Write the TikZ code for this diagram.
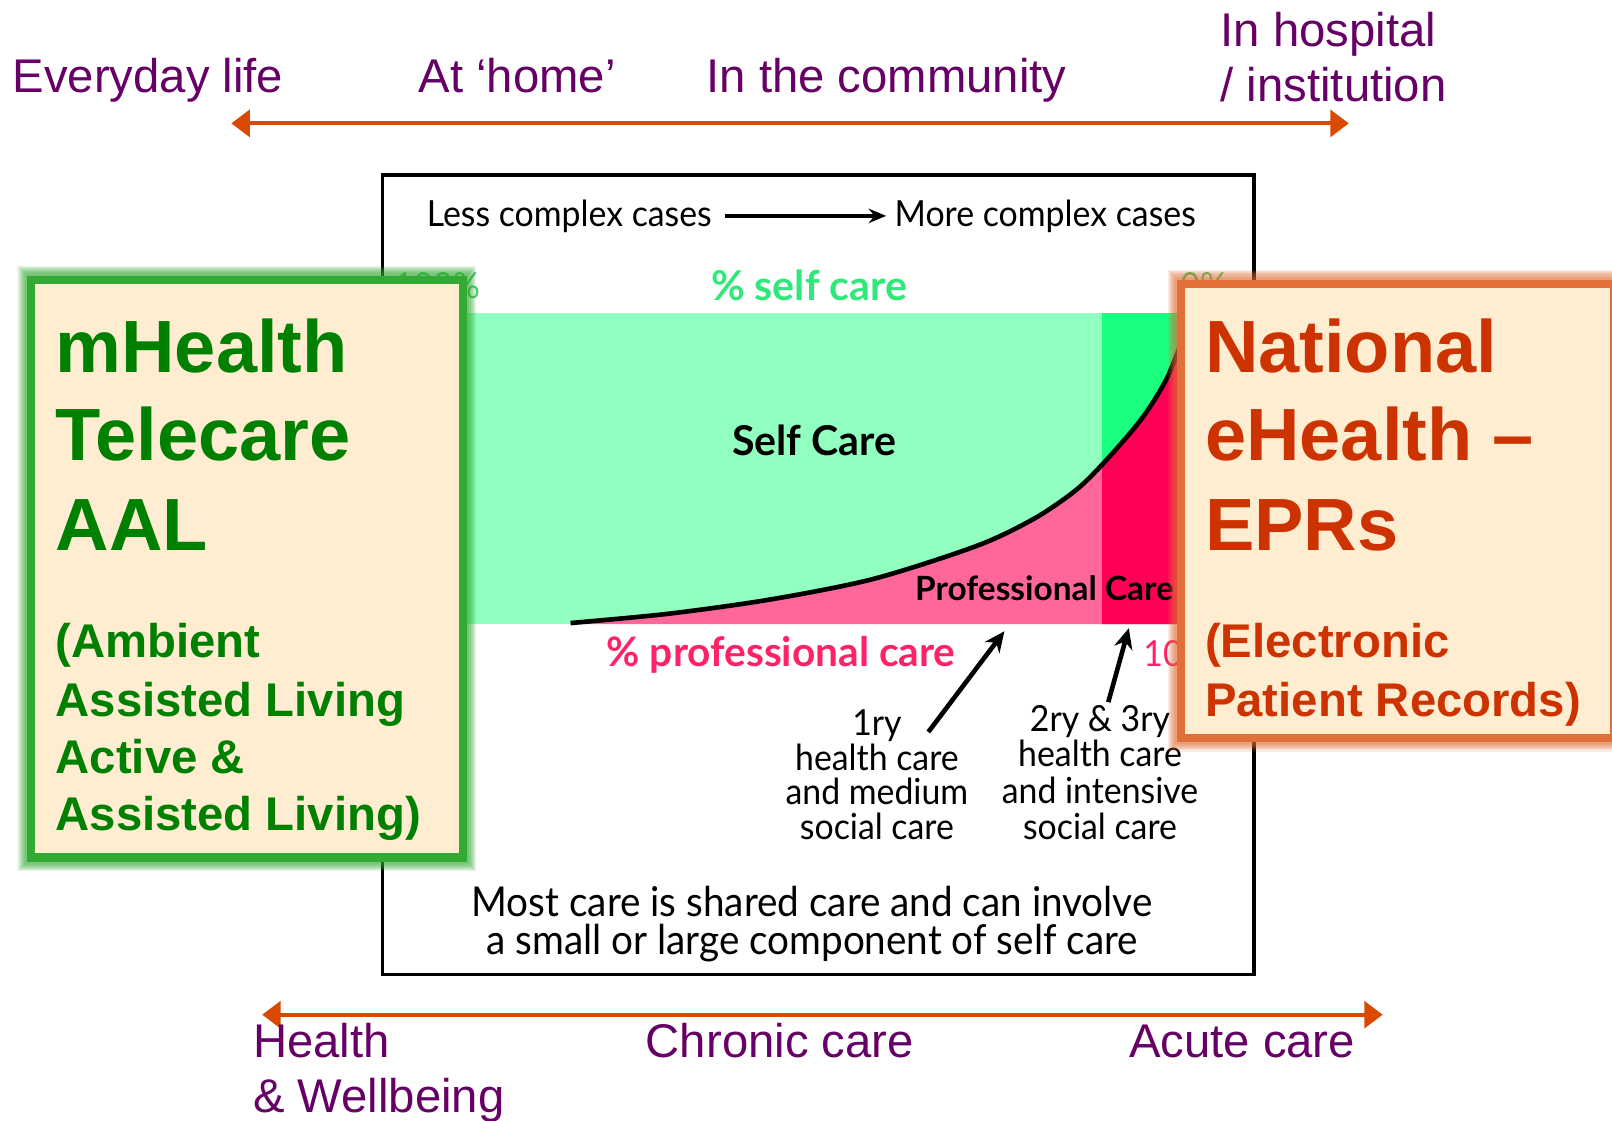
\documentclass[tikz,border=0pt]{standalone}
\usepackage{fontspec}
\setmainfont{Liberation Sans}
\newfontfamily\gill[FakeStretch=0.94]{Lato}
\newfontfamily\gillw{Lato}
\usetikzlibrary{arrows.meta}
\definecolor{purp}{HTML}{660066}
\definecolor{oarr}{HTML}{D94A00}
\definecolor{cream}{HTML}{FFEDD1}
\definecolor{gbord}{HTML}{33AA33}
\definecolor{gtext}{HTML}{008000}
\definecolor{obord}{HTML}{E07038}
\definecolor{otext}{HTML}{CC3300}
\definecolor{lgreen}{HTML}{90FFC0}
\definecolor{dgreen}{HTML}{1AFF80}
\definecolor{pinkA}{HTML}{FF6699}
\definecolor{pinkB}{HTML}{FF0055}
\definecolor{selfgreen}{HTML}{2EE87A}
\definecolor{midgreen}{HTML}{44CC66}
\definecolor{profpink}{HTML}{FF2266}
\begin{document}
\begin{tikzpicture}[x=1pt,y=-1pt,
  purple/.style={text=purp,font=\fontsize{46}{54}\selectfont,inner sep=0pt,anchor=base west},
  oarrow/.style={draw=oarr,line width=4pt,{Triangle[length=18pt,width=26pt]}-{Triangle[length=18pt,width=26pt]}},
  chart/.style={font=\gill\fontsize{35}{40}\selectfont,inner sep=0pt},
  chartb/.style={font=\gillw\bfseries\fontsize{40}{44}\selectfont,inner sep=0pt},
  barrow/.style={draw=black,line width=4.5pt,-{Stealth[length=20pt,width=18pt]}},
  gbig/.style={text=gtext,font=\bfseries\fontsize{72}{80}\selectfont,inner sep=0pt,anchor=base west},
  gsmall/.style={text=gtext,font=\bfseries\fontsize{46}{52}\selectfont,inner sep=0pt,anchor=base west},
  obig/.style={text=otext,font=\bfseries\fontsize{72}{80}\selectfont,inner sep=0pt,anchor=base west},
  osmall/.style={text=otext,font=\bfseries\fontsize{46}{52}\selectfont,inner sep=0pt,anchor=base west}
]
\useasboundingbox (0,0) rectangle (1568,1090);
\fill[white] (0,0) rectangle (1568,1090);

% top labels and arrow
\node[purple] (everyday) at (12,90) {Everyday life};
\node[purple] (home) at (407,90) {At ‘home’};
\node[purple] (community) at (687,90) {In the community};
\node[purple] (hosp1) at (1187,45) {In hospital};
\node[purple] (hosp2) at (1187,99) {/ institution};
\coordinate (ta1) at (225,120);
\coordinate (ta2) at (1312,120);
\draw[oarrow] (ta1) -- (ta2);

% chart fills
\fill[lgreen] (440,304) rectangle (1152,607);
\fill[dgreen] (1072,304) rectangle (1152,607);
\fill[pinkA] (555,607) -- plot[smooth] coordinates {(555,606) (650,597) (750,583) (850,563) (950,531) (1005,505) (1045,478) (1072,452) (1110,408) (1135,368) (1152,325)} -- (1152,607) -- cycle;
\begin{scope}
\clip (1072,250) rectangle (1152,607);
\fill[pinkB] (555,607) -- plot[smooth] coordinates {(555,606) (650,597) (750,583) (850,563) (950,531) (1005,505) (1045,478) (1072,452) (1110,408) (1135,368) (1152,325)} -- (1152,607) -- cycle;
\end{scope}
\draw[line width=4.5pt,black] plot[smooth] coordinates {(555,606) (650,597) (750,583) (850,563) (950,531) (1005,505) (1045,478) (1072,452) (1110,408) (1135,368) (1152,325)};

% main box
\draw[line width=3.5pt] (372,170) rectangle (1220,948);

% chart texts
\node[chart,anchor=base west] (less) at (415,220) {Less complex cases};
\node[chart,anchor=base west] (more) at (870,220) {More complex cases};
\coordinate (ca1) at (705,210);
\coordinate (ca2) at (862,210);
\draw[barrow,line width=3.5pt,-{Stealth[length=17pt,width=14pt]}] (ca1) -- (ca2);
\node[chart,anchor=base west,text=midgreen] (hundred) at (383,290) {100\%};
\node[chart,anchor=base west,text=midgreen] (zero) at (1148,290) {0\%};
\node[chartb,anchor=base,text=selfgreen] (selfpct) at (787,292) {\% self care};
\node[chartb,anchor=base] (selfcare) at (792,443) {Self Care};
\node[chartb,anchor=base west,font=\gillw\bfseries\fontsize{32.5}{36}\selectfont] (profcare) at (890,584) {Professional Care};
\node[chartb,anchor=base west,text=profpink,font=\gillw\bfseries\fontsize{39.5}{44}\selectfont] (profpct) at (590,648) {\% professional care};
\node[chart,anchor=base west,text=profpink] (hundredp) at (1112,648) {100\%};

\node[chart,anchor=base] (p1a) at (853,715) {1ry};
\node[chart,anchor=base] (p1b) at (853,749) {health care};
\node[chart,anchor=base] (p1c) at (853,783) {and medium};
\node[chart,anchor=base] (p1d) at (853,817) {social care};
\node[chart,anchor=base] (p2a) at (1070,712) {2ry \& 3ry};
\node[chart,anchor=base] (p2b) at (1070,746) {health care};
\node[chart,anchor=base] (p2c) at (1070,782) {and intensive};
\node[chart,anchor=base] (p2d) at (1070,817) {social care};
\coordinate (a1s) at (903,712);
\coordinate (a1e) at (977,614);
\coordinate (a2s) at (1078,683);
\coordinate (a2e) at (1098,611);
\draw[barrow] (a1s) -- (a1e);
\draw[barrow] (a2s) -- (a2e);

\node[chart,anchor=base,font=\gill\fontsize{40}{44}\selectfont] (most1) at (790,891) {Most care is shared care and can involve};
\node[chart,anchor=base,font=\gill\fontsize{40}{44}\selectfont] (most2) at (790,928) {a small or large component of self care};

% green box
\foreach \w in {26,24,22,20,18,16,14,12}
  \draw[gbord,line width=\w pt,opacity=0.12] (30,272) rectangle (450,834);
\draw[gbord,line width=8pt,fill=cream] (30,272) rectangle (450,834);
\node[gbig] (mh) at (54,362) {mHealth};
\node[gbig] (tc) at (54,448) {Telecare};
\node[gbig] (aal) at (54,535) {AAL};
\node[gsmall] (g1) at (54,640) {(Ambient};
\node[gsmall] (g2) at (54,697) {Assisted Living};
\node[gsmall] (g3) at (54,752) {Active \&};
\node[gsmall] (g4) at (54,808) {Assisted Living)};

% orange box
\foreach \w in {26,24,22,20,18,16,14,12}
  \draw[obord,line width=\w pt,opacity=0.12] (1149,276) rectangle (1570,718);
\draw[obord,line width=8pt,fill=cream] (1149,276) rectangle (1570,718);
\node[obig] (nat) at (1172,362) {National};
\node[obig] (eh) at (1172,448) {eHealth –};
\node[obig] (epr) at (1172,535) {EPRs};
\node[osmall] (o1) at (1172,640) {(Electronic};
\node[osmall] (o2) at (1172,697) {Patient Records)};

% bottom arrow and labels
\coordinate (ba1) at (255,987);
\coordinate (ba2) at (1345,987);
\draw[oarrow] (ba1) -- (ba2);
\node[purple] (health) at (246,1029) {Health};
\node[purple] (wellb) at (246,1082) {\& Wellbeing};
\node[purple] (chronic) at (628,1029) {Chronic care};
\node[purple] (acute) at (1098,1029) {Acute care};
\end{tikzpicture}
\end{document}
